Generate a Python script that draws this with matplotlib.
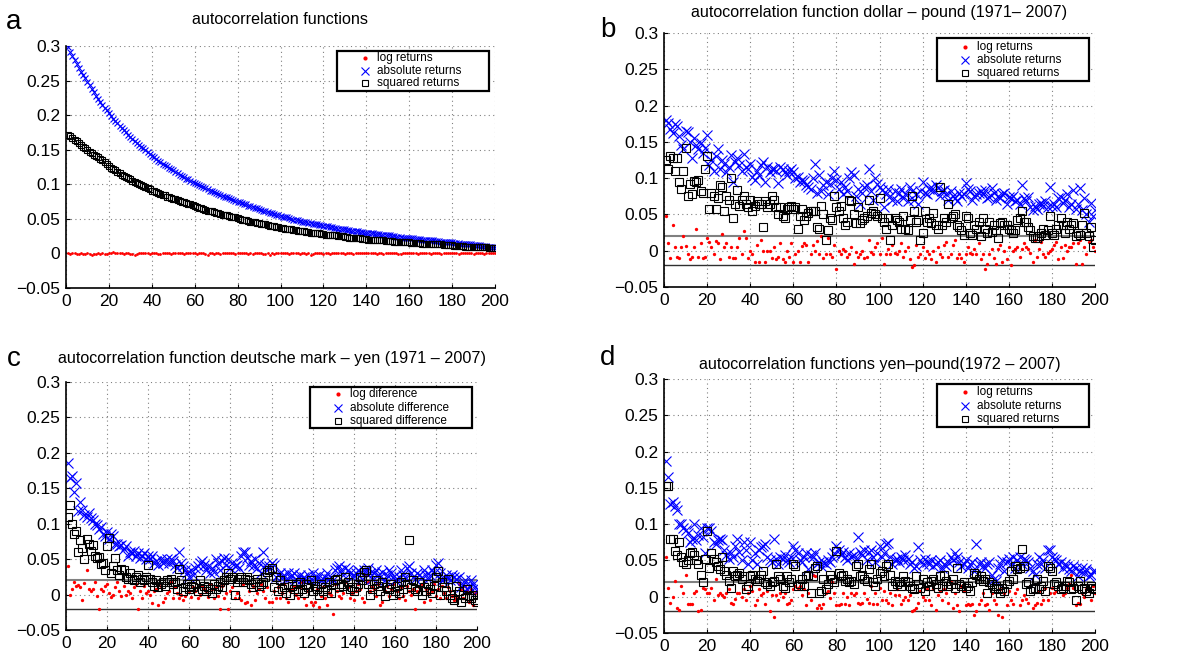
import numpy as np
import matplotlib
matplotlib.use('Agg')
import matplotlib.pyplot as plt
from matplotlib.ticker import FuncFormatter
from matplotlib.patches import Rectangle
from matplotlib.lines import Line2D

plt.rcParams['font.family'] = ['Liberation Sans', 'DejaVu Sans']

lags = list(range(1, 201))

# values in thousandths, lags 1..200

# panel a: autocorrelation functions
a_log = [0, -1, 0, 0, -1, -1, 0, -1, -1, 0, -1, -2, -1, -1, 0, -1, 0, -1, -1, 0,
         0, 2, 1, 1, 0, 0, -1, 0, 0, -1, -1, -2, -1, 0, 0, 1, 0, 0, -1, 0,
         1, 0, -1, -1, 0, 1, 0, 0, -1, 1, 0, 0, 1, 0, -1, 0, 1, 1, 0, 0,
         -1, 0, 0, 1, -1, -2, 0, 0, -1, 0, 0, -1, 0, 1, 0, 0, 1, 0, -1, 0,
         1, 1, 0, 0, -1, 0, -1, 1, 0, 1, 0, -1, -1, 0, -2, 0, -1, 1, 0, 0,
         0, 1, 0, -1, 0, 0, 1, 0, -1, 0, 0, -1, 0, -2, -1, 0, 1, 0, 0, -1,
         0, 0, -1, 0, 1, 0, 0, 1, 0, -1, 0, 1, 0, -1, 0, 1, 0, 0, 1, 1,
         0, 0, 1, 0, -1, 0, 0, -1, 0, 1, 0, 1, 1, 0, -1, -1, 0, 0, 0, 1,
         0, 0, 1, -1, 0, 1, 0, 1, 0, -1, 0, 0, 1, 0, -1, 0, 1, 0, 0, 1,
         0, 0, -1, 1, 0, 0, 1, 0, 0, -1, 0, 1, 0, 0, -1, 1, 0, 0, 0, 0]
a_abs = [298, 292, 286, 280, 274, 268, 263, 258, 253, 248, 243, 238, 233, 228, 224, 219, 215, 211, 207, 203,
         199, 195, 192, 188, 185, 181, 178, 175, 172, 169, 166, 163, 160, 157, 154, 152, 149, 146, 144, 141,
         139, 137, 134, 132, 130, 128, 126, 124, 122, 120, 118, 116, 114, 112, 110, 108, 107, 105, 103, 102,
         100, 99, 97, 96, 94, 93, 91, 90, 89, 87, 86, 85, 83, 82, 81, 80, 78, 77, 76, 75,
         74, 73, 72, 71, 69, 68, 67, 66, 65, 64, 63, 62, 61, 60, 59, 58, 57, 56, 55, 54,
         53, 53, 52, 51, 50, 49, 49, 48, 47, 46, 46, 45, 44, 44, 43, 42, 42, 41, 41, 40,
         39, 39, 38, 38, 37, 37, 36, 36, 35, 35, 34, 34, 33, 33, 32, 32, 31, 31, 30, 30,
         30, 29, 29, 28, 28, 28, 27, 27, 26, 26, 26, 25, 25, 24, 24, 24, 23, 23, 23, 22,
         22, 22, 21, 21, 21, 20, 20, 20, 19, 19, 19, 18, 18, 18, 17, 17, 17, 16, 16, 16,
         15, 15, 15, 14, 14, 14, 13, 13, 13, 12, 12, 12, 12, 11, 11, 11, 10, 10, 10, 9]
a_sq = [172, 170, 167, 164, 162, 159, 157, 154, 152, 150, 147, 145, 143, 141, 139, 137, 135, 132, 130, 127,
        124, 122, 120, 118, 116, 114, 112, 111, 109, 107, 105, 104, 102, 100, 99, 97, 96, 94, 93, 91,
        90, 89, 87, 86, 85, 84, 82, 81, 80, 79, 78, 77, 76, 75, 74, 73, 72, 71, 70, 68,
        67, 66, 65, 64, 63, 62, 62, 61, 60, 59, 58, 57, 56, 56, 55, 54, 53, 53, 52, 51,
        50, 49, 49, 48, 47, 46, 46, 45, 44, 44, 43, 42, 42, 41, 40, 40, 39, 38, 38, 37,
        37, 36, 36, 35, 35, 34, 34, 33, 33, 32, 32, 31, 31, 30, 30, 29, 29, 29, 28, 28,
        27, 27, 27, 26, 26, 26, 25, 25, 25, 24, 24, 23, 23, 23, 22, 22, 22, 21, 21, 21,
        20, 20, 20, 20, 19, 19, 19, 19, 18, 18, 18, 18, 17, 17, 17, 17, 17, 16, 16, 16,
        15, 15, 15, 15, 15, 14, 14, 14, 14, 14, 13, 13, 13, 13, 13, 12, 12, 12, 12, 12,
        11, 11, 11, 11, 11, 10, 10, 10, 10, 10, 10, 9, 9, 9, 9, 9, 8, 8, 8, 8]

# panel b: dollar - pound
b_log = [48, 10, -10, 35, 5, -8, -10, 5, 20, 7, -5, -12, -8, 5, 30, -9, 10, -10, -8, 17,
         12, 5, -5, 13, 10, -12, 23, 5, 10, -8, 5, -10, -10, 5, 18, -5, 27, 17, -10, 0,
         -5, -15, 8, -15, 15, 0, -15, 0, 0, -10, 5, -12, -8, 10, -12, -15, 0, -8, 10, -15,
         -5, 0, -15, 7, 10, 8, -15, -5, 8, 0, 13, -5, 20, -10, -5, 18, -5, -8, 8, -25,
         0, -5, 2, 0, -8, -5, 5, -18, -2, -8, -5, 0, -10, -8, 15, -2, -5, 5, 10, -5,
         18, -18, -5, 2, -5, 8, -3, -5, 0, 10, -8, 0, 5, -12, -22, -20, 8, -8, -5, 5,
         -10, 0, -5, -12, 0, -15, 5, -5, -8, 8, 12, -8, -5, 8, 15, -10, -5, -10, -15, -5,
         5, -3, -5, 2, -5, 10, -12, -5, -25, -18, -5, 3, -10, -18, 3, 8, -15, 0, -12, 5,
         -20, 0, 3, 5, -8, 3, 10, 5, 3, -3, -15, 15, -8, 3, 12, -5, -8, -3, 0, 3,
         8, 12, -12, 5, -10, 8, 0, 5, 5, 10, -18, 10, 15, -18, 5, -5, 12, 15, 5, 0]
b_abs = [180, 176, 168, 162, 175, 172, 158, 145, 140, 165, 163, 150, 128, 155, 145, 140, 148, 135, 142, 160,
         118, 125, 110, 130, 140, 112, 125, 120, 108, 115, 132, 95, 122, 128, 118, 110, 133, 115, 112, 120,
         102, 98, 110, 105, 118, 122, 95, 115, 108, 112, 113, 110, 93, 115, 112, 108, 105, 110, 112, 108,
         100, 102, 95, 98, 96, 90, 88, 85, 100, 120, 80, 105, 82, 90, 95, 78, 92, 100, 110, 98,
         85, 95, 78, 88, 82, 100, 108, 104, 75, 85, 65, 80, 88, 90, 113, 82, 70, 100, 92, 88,
         84, 60, 78, 85, 75, 70, 82, 68, 80, 85, 72, 78, 68, 88, 82, 70, 78, 65, 82, 95,
         80, 78, 85, 88, 82, 90, 86, 75, 82, 84, 78, 70, 82, 75, 72, 68, 80, 75, 78, 93,
         85, 82, 70, 75, 78, 80, 82, 78, 84, 72, 74, 86, 80, 70, 75, 72, 78, 80, 65, 74,
         72, 75, 68, 70, 64, 90, 72, 68, 74, 60, 56, 62, 58, 65, 66, 62, 68, 60, 88, 62,
         64, 60, 72, 74, 66, 70, 78, 60, 64, 84, 58, 64, 86, 56, 72, 50, 40, 66, 48, 56]
b_sq = [125, 112, 130, 128, 110, 128, 95, 85, 110, 142, 75, 92, 78, 96, 95, 97, 82, 80, 112, 130,
        57, 80, 75, 57, 72, 90, 88, 55, 75, 70, 100, 45, 65, 84, 62, 70, 75, 65, 60, 70,
        55, 62, 68, 65, 65, 33, 68, 60, 65, 75, 70, 60, 50, 60, 48, 45, 58, 60, 62, 58,
        60, 30, 48, 58, 42, 48, 52, 55, 55, 55, 32, 30, 62, 50, 15, 28, 45, 42, 75, 60,
        55, 62, 45, 35, 40, 70, 68, 50, 38, 60, 38, 42, 45, 48, 70, 52, 55, 50, 48, 72,
        45, 40, 30, 45, 15, 35, 45, 42, 40, 30, 48, 30, 28, 42, 75, 55, 40, 42, 15, 25,
        55, 40, 45, 38, 52, 35, 30, 88, 35, 45, 40, 65, 45, 48, 50, 35, 32, 28, 22, 48,
        45, 25, 22, 35, 30, 40, 20, 45, 30, 25, 40, 26, 35, 28, 18, 38, 40, 36, 35, 30,
        28, 25, 28, 42, 45, 55, 40, 40, 32, 28, 20, 18, 18, 20, 25, 30, 22, 28, 48, 25,
        22, 30, 35, 45, 35, 25, 40, 30, 35, 38, 20, 25, 22, 35, 52, 25, 20, 32, 5, 15]

# panel c: deutsche mark - yen
c_log = [40, 0, 8, 18, 12, 14, 10, -8, 16, 35, 8, 5, 8, 18, -2, -20, 8, 5, 12, 15,
         2, -3, 0, 10, 18, 5, -2, 12, 0, 5, 2, -5, 10, 15, -20, 5, -5, 12, 2, 5,
         0, -12, 5, 8, -15, 12, -10, -5, 2, 5, 18, -5, 10, 2, -5, 0, -8, -2, 32, 5,
         -3, 10, 5, -5, 0, 12, 8, 5, -3, 15, 8, -5, 10, -2, -20, 12, -5, 2, -20, 5,
         10, -5, 2, -5, -8, 15, -12, -10, 5, -15, 12, -8, 2, 8, 15, 5, -5, 10, -10, -10,
         5, -5, 10, -5, 2, 15, -5, -10, 5, 8, 12, 0, -5, 10, 18, -5, -15, 5, -10, -15,
         -10, 8, -18, -2, 10, -5, -15, 2, 0, -28, 15, 5, -2, -5, 2, 18, 10, -5, 2, -8,
         5, 15, 8, -5, -10, 28, 18, 5, 10, 8, -2, 15, -15, -10, 5, 12, -2, 8, 15, 20,
         5, -5, 10, -2, -8, 12, 5, 0, 8, -20, 5, 10, 15, -10, 8, 2, -8, 5, 15, -2,
         8, -5, 12, 2, -5, 10, 5, -2, -8, -5, 15, 8, -5, 12, 5, -10, 8, -15, 2, 5]
c_abs = [185, 165, 168, 145, 158, 118, 130, 120, 112, 110, 115, 108, 105, 100, 98, 92, 95, 85, 82, 88,
         78, 85, 82, 72, 72, 68, 70, 65, 68, 55, 60, 58, 62, 55, 58, 52, 55, 58, 50, 55,
         50, 55, 45, 48, 42, 50, 45, 48, 50, 45, 50, 48, 42, 38, 60, 45, 40, 35, 30, 25,
         35, 28, 38, 40, 45, 48, 42, 35, 40, 30, 38, 32, 50, 45, 35, 48, 52, 42, 50, 38,
         45, 40, 42, 38, 55, 60, 60, 52, 42, 48, 40, 50, 38, 45, 30, 60, 42, 35, 40, 45,
         42, 25, 28, 30, 25, 28, 22, 30, 25, 28, 30, 20, 25, 28, 22, 25, 20, 28, 22, 30,
         25, 22, 28, 20, 18, 25, 30, 22, 25, 20, 35, 38, 40, 35, 28, 38, 35, 30, 25, 28,
         30, 35, 32, 22, 35, 32, 38, 30, 22, 30, 35, 28, 25, 32, 20, 28, 35, 30, 25, 20,
         22, 25, 35, 28, 25, 38, 40, 30, 25, 22, 30, 28, 25, 35, 28, 22, 28, 35, 30, 42,
         45, 30, 20, 22, 28, 25, 20, 28, 25, 22, 25, 10, 15, 20, 8, 12, 20, 15, 10, 5]
c_sq = [110, 127, 100, 85, 90, 60, 77, 66, 50, 78, 72, 62, 70, 55, 52, 53, 43, 45, 35, 68,
        80, 30, 40, 52, 35, 28, 36, 35, 25, 22, 30, 22, 20, 25, 28, 18, 22, 20, 25, 42,
        22, 18, 12, 20, 10, 15, 18, 12, 20, 18, 22, 15, 18, 8, 36, 20, 5, 10, 15, 8,
        12, 10, 15, 5, 20, 8, 12, 5, 10, 8, 2, 15, 8, 12, 18, 10, 20, 25, 30, 22,
        25, 0, 18, 22, 25, 18, 22, 25, 20, 15, 10, 18, 22, 12, 15, 18, 25, 32, 35, 38,
        10, 25, 5, 20, 8, 10, 2, 15, 0, 12, 8, 15, 5, 18, 8, 2, 15, 10, 20, 5,
        12, 8, 0, 15, 5, 10, 8, 18, 2, 15, 20, 22, 10, 15, 12, 25, 18, 8, 10, 5,
        10, 15, 25, 20, 32, 35, 15, 0, 8, 15, 20, 12, 5, 18, -2, 10, 8, 15, 0, 5,
        12, 2, 18, 8, 25, 15, 77, 10, 20, 8, 5, 18, 0, 10, 5, 15, 8, 2, 12, 25,
        33, 0, 18, 10, 5, 22, 0, -5, -8, 12, 5, -10, 0, -5, 8, -2, -5, 0, -8, -10]

# panel d: yen - pound
d_log = [55, 12, -8, 0, 22, -15, -18, 15, 5, 30, -10, -10, -10, 5, 8, -20, -18, 12, 10, 5,
         5, 12, -5, 25, 2, 5, 3, 0, 5, 10, -8, -10, -3, 5, 5, 0, 10, -5, 5, 15,
         8, -12, -5, 10, 3, 5, -10, 8, -20, 3, -28, 2, -5, 5, 0, 5, -10, -8, -5, 10,
         15, 12, 15, 3, 10, -12, 5, -5, 30, 28, -15, -12, -15, -10, 5, 8, -2, 20, 5, -12,
         -12, -10, 5, -10, 0, -12, 5, 3, 5, -8, -10, -8, 5, -3, -8, 15, -10, 5, -10, 12,
         -5, 8, -5, -8, 5, -12, 2, 10, 3, -10, -5, 0, -5, 3, -20, -18, -15, -8, 8, 0,
         -5, 10, -5, -12, 10, -18, 2, 8, -5, 10, 5, -8, 20, -15, 5, -12, -20, 15, 8, -12,
         -10, -12, -10, -25, -20, -10, -5, 5, -12, -10, -18, 5, -5, -10, -25, 10, -28, 5, -12, 8,
         -5, -10, 5, 10, -12, -5, 2, -3, -8, 15, -15, -12, -8, 8, -10, -5, 12, -5, 5, 12,
         5, 8, 15, 18, 3, 5, 12, 18, 30, 12, -12, -8, -10, 5, 0, 10, 8, -5, 15, 5]
d_abs = [187, 165, 128, 130, 125, 120, 100, 100, 95, 92, 88, 75, 80, 100, 78, 85, 95, 82, 60, 95,
         95, 90, 75, 72, 78, 80, 78, 65, 58, 52, 60, 55, 70, 80, 62, 50, 75, 65, 45, 75,
         50, 60, 45, 65, 68, 70, 72, 55, 50, 48, 80, 52, 45, 55, 52, 58, 50, 48, 55, 70,
         65, 60, 50, 48, 55, 60, 38, 58, 55, 60, 45, 48, 42, 48, 45, 50, 48, 55, 60, 70,
         65, 58, 62, 55, 50, 60, 55, 58, 52, 82, 62, 58, 65, 50, 62, 65, 55, 48, 60, 70,
         55, 60, 72, 74, 55, 45, 50, 52, 48, 55, 50, 58, 52, 45, 48, 40, 42, 68, 50, 45,
         52, 48, 45, 50, 42, 45, 48, 50, 40, 45, 42, 48, 55, 50, 60, 55, 48, 42, 45, 50,
         40, 45, 48, 35, 72, 45, 48, 42, 40, 45, 48, 30, 25, 22, 40, 45, 50, 35, 48, 52,
         45, 55, 40, 50, 55, 45, 52, 50, 48, 40, 35, 30, 45, 55, 45, 50, 40, 65, 65, 55,
         52, 50, 45, 48, 40, 45, 42, 38, 35, 42, 40, 28, 35, 40, 32, 38, 28, 30, 35, 36]
d_sq = [152, 152, 80, 80, 63, 58, 75, 55, 48, 45, 50, 60, 62, 58, 50, 45, 30, 20, 52, 90,
        40, 60, 52, 48, 42, 38, 55, 35, 30, 22, 12, 35, 28, 30, 32, 25, 28, 10, 15, 28,
        30, 25, 22, 25, 30, 35, 20, 18, 15, 20, 22, 45, 28, 25, 15, 12, 28, 20, 25, 45,
        42, 15, 18, 25, 15, 28, 30, 5, 28, 40, 42, 5, 8, 25, 10, 18, 30, 25, 20, 63,
        32, 28, 30, 22, 25, 20, 22, 18, 42, 45, 28, 30, 25, 22, 38, 45, 20, 15, 25, 32,
        35, 28, 42, 45, 30, 15, 22, 18, 20, 15, 28, 22, 20, 15, 12, 10, 28, 18, 12, 25,
        8, 20, 15, 22, 25, 18, 12, 28, 15, 30, 22, 15, 18, 25, 12, 40, 18, 15, 20, 12,
        15, 8, 20, 32, 30, 25, 28, 22, 25, 5, 20, 18, 12, 15, 10, 5, 12, 8, 18, 22,
        35, 25, 42, 38, 40, 66, 42, 18, 20, 8, 10, 12, 25, 10, 15, 22, 8, 42, 40, 35,
        18, 20, 15, 10, 12, 15, 22, 20, 10, 12, -5, 15, 22, 10, 12, 8, 5, 15, 12, 10]

titles = ['autocorrelation functions',
          'autocorrelation function dollar \u2013 pound (1971\u2013 2007)',
          'autocorrelation function deutsche mark \u2013 yen (1971 \u2013 2007)',
          'autocorrelation functions yen\u2013pound(1972 \u2013 2007)']
letters = ['a', 'b', 'c', 'd']
labels_ret = ['log returns', 'absolute returns', 'squared returns']
labels_dif = ['log diference', 'absolute difference', 'squared difference']

panels = [(a_log, a_abs, a_sq), (b_log, b_abs, b_sq), (c_log, c_abs, c_sq), (d_log, d_abs, d_sq)]

W, H = 1198, 659
# axes boxes in pixels: left, top, right, bottom
boxes = [(66, 46, 495, 288), (664, 33, 1095, 287), (66, 382, 477, 630), (664, 379, 1095, 633)]
title_y = [20, 13, 359, 364]
letter_xy = [(14, 22), (608, 30), (14, 359), (608, 358)]
# legend frames in pixels: left, top, right, bottom
legend_box = [(337, 51, 489, 91), (937, 38, 1089, 81), (310, 387, 472, 428), (937, 384, 1089, 427)]
legend_rows = [(7, 19.5, 32), (9, 22, 35), (7, 21, 34), (8, 22, 35)]

fig = plt.figure(figsize=(W / 100, H / 100), dpi=100)
fmt = FuncFormatter(lambda v, p: ('%g' % round(v, 3)).replace('-', '\u2212'))


def fx(px):
    return px / W


def fy(py):
    return 1 - py / H


for i, (lg, ab, sq) in enumerate(panels):
    l, t, r, b = boxes[i]
    ax = fig.add_axes([fx(l), fy(b), (r - l) / W, (b - t) / H])
    small = i == 0
    labels = labels_dif if i == 2 else labels_ret
    styles = [dict(marker='o', color='red', ms=2.0 if small else 2.4, mec='none', ls='none'),
              dict(marker='x', color='blue', ms=4.5 if small else 6.5, mew=0.8, ls='none'),
              dict(marker='s', color='black', mfc='none', ms=3.8 if small else 6.0, mew=0.8, ls='none')]
    for vals, st in zip((lg, ab, sq), styles):
        ax.plot(lags, np.array(vals) / 1000, **st)
    if i > 0:
        ax.axhline(0.02, color='#808080', lw=1.5, zorder=1)
        ax.axhline(-0.02, color='#303030', lw=1.0, zorder=1)
    ax.set_xlim(0, 200)
    ax.set_ylim(-0.05, 0.3)
    ax.set_xticks(range(0, 201, 20))
    ax.set_yticks(np.arange(-0.05, 0.301, 0.05))
    ax.yaxis.set_major_formatter(fmt)
    ax.tick_params(direction='in', length=3, labelsize=12.5, pad=4)
    ax.grid(True, linestyle=(0, (1, 3)), color='#808080', lw=0.8)
    for s in ['top', 'right']:
        ax.spines[s].set_visible(False)
    for s in ['left', 'bottom']:
        ax.spines[s].set_linewidth(1.2)
    fig.text(fx((l + r) / 2), fy(title_y[i]), titles[i], ha='center', va='center', fontsize=11.6)
    fig.text(fx(letter_xy[i][0]), fy(letter_xy[i][1]), letters[i], ha='center', va='center', fontsize=20)

    # legend drawn as a MATLAB-like box
    bl, bt, br, bb = legend_box[i]
    fig.add_artist(Rectangle((fx(bl), fy(bb)), (br - bl) / W, (bb - bt) / H, transform=fig.transFigure,
                             facecolor='white', edgecolor='black', lw=1.6, zorder=5))
    for k in range(3):
        yy = fy(bt + legend_rows[i][k])
        st = dict(styles[k])
        st['ms'] = [3.0, 6.0, 5.0][k]
        fig.add_artist(Line2D([fx(bl + 28)], [yy], transform=fig.transFigure, zorder=6, **st))
        fig.text(fx(bl + 40), yy, labels[k], ha='left', va='center', fontsize=8.5, zorder=6)

fig.savefig('out.png', dpi=100)
